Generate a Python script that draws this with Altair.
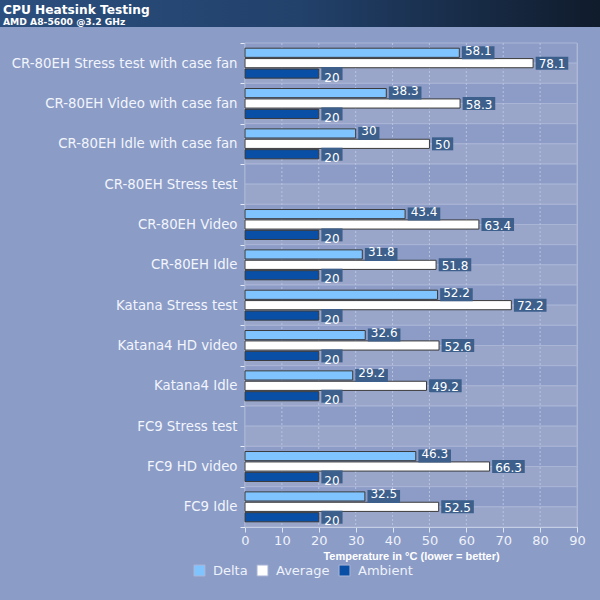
import altair as alt
import pandas as pd

categories = [
    "CR-80EH Stress test with case fan",
    "CR-80EH Video with case fan",
    "CR-80EH Idle with case fan",
    "CR-80EH Stress test",
    "CR-80EH Video",
    "CR-80EH Idle",
    "Katana Stress test",
    "Katana4 HD video",
    "Katana4 Idle",
    "FC9 Stress test",
    "FC9 HD video",
    "FC9 Idle",
]
delta = [58.1, 38.3, 30, None, 43.4, 31.8, 52.2, 32.6, 29.2, None, 46.3, 32.5]
average = [78.1, 58.3, 50, None, 63.4, 51.8, 72.2, 52.6, 49.2, None, 66.3, 52.5]
ambient = [20, 20, 20, None, 20, 20, 20, 20, 20, None, 20, 20]
series = ["Delta", "Average", "Ambient"]
series_colors = ["#80c4ff", "#ffffff", "#0a4fa6"]
x_ticks = list(range(0, 100, 10))
halves = ["top", "bottom"]
stripe_colors = ["#8c9cc6", "#99a6c9"]

W, H = 332, 484
PX_PER_UNIT = W / 90.0

rows = []
for i, c in enumerate(categories):
    for s, vals in zip(series, [delta, average, ambient]):
        v = vals[i]
        if v is None:
            continue
        lab = f"{v:g}"
        ndig = sum(ch.isdigit() for ch in lab)
        ndot = lab.count(".")
        wpx = ndig * 7.6 + ndot * 3.8 + 6
        rows.append({"cat": c, "series": s, "value": v, "lab": lab,
                     "lx1": v + 0.7, "lx2": v + 0.7 + wpx / PX_PER_UNIT})
df = pd.DataFrame(rows)

stripe_df = pd.DataFrame([{"cat": c, "half": h, "scol": col}
                          for c in categories for h, col in zip(halves, stripe_colors)])
grid_df = pd.DataFrame({"t": x_ticks[1:-1]})
header_df = pd.DataFrame({"k": [0]})

xscale = alt.Scale(domain=[0, 90], nice=False, zero=True)
yscale = alt.Scale(domain=categories, paddingInner=0, paddingOuter=0)
y_enc = alt.Y("cat:N", sort=categories, scale=yscale,
              axis=alt.Axis(title=None, tickBand="extent", labelFontSize=13.3,
                            labelColor="#f2f5fb", labelFont="DejaVu Sans",
                            domainColor="#e6ebf6", domainWidth=1.5,
                            tickColor="#e6ebf6", tickSize=5, labelPadding=3,
                            labelLimit=300, grid=False))
x_axis = alt.Axis(values=x_ticks, title="Temperature in °C (lower = better)",
                  titleFontSize=11, titleFontWeight="bold", titleColor="#ffffff",
                  titleFont="Liberation Sans", labelFont="DejaVu Sans",
                  labelFontSize=13, labelColor="#eef2fa", domainColor="#dde4f3",
                  tickColor="#dde4f3", tickSize=5, grid=False, labelFlush=False,
                  labelOverlap=False, titlePadding=3, labelPadding=2)
off_scale = alt.Scale(domain=series, paddingInner=0.12, paddingOuter=0.5)


def xq(field):
    return alt.X(field, type="quantitative", scale=xscale, axis=x_axis)


header = alt.Chart(header_df).mark_rect(
    fill=alt.Gradient(gradient="linear", x1=0, x2=1, y1=0, y2=0,
                      stops=[alt.GradientStop(color="#2b4f7e", offset=0),
                             alt.GradientStop(color="#22416b", offset=0.5),
                             alt.GradientStop(color="#101b2b", offset=1)])
).encode(x=alt.value(-245), x2=alt.value(W + 23), y=alt.value(-43), y2=alt.value(-16))

stripes = alt.Chart(stripe_df).mark_bar(stroke="#aab5d6", strokeWidth=1).encode(
    x=xq("x0"),
    x2="x1:Q",
    y=y_enc,
    yOffset=alt.YOffset("half:N", sort=halves,
                        scale=alt.Scale(domain=halves, paddingInner=0, paddingOuter=0)),
    color=alt.Color("scol:N", scale=None),
).transform_calculate(x0="0", x1="90")

grid = alt.Chart(grid_df).mark_rule(strokeDash=[2, 2], color="#b9c3df", strokeWidth=1).encode(
    x=xq("t")
)

bars = alt.Chart(df).mark_bar(stroke="#3a3a3a", strokeWidth=1).encode(
    x=xq("value"),
    y=y_enc,
    yOffset=alt.YOffset("series:N", sort=series, scale=off_scale),
    color=alt.Color("series:N", sort=series,
                    scale=alt.Scale(domain=series, range=series_colors),
                    legend=alt.Legend(title=None, orient="none", legendX=-52, legendY=521,
                                      direction="horizontal", symbolType="square",
                                      symbolSize=120, symbolStrokeColor="#333333",
                                      symbolStrokeWidth=1, labelColor="#eef2fa",
                                      labelFontSize=13, labelFont="DejaVu Sans",
                                      columnPadding=7, labelOffset=7)),
)

boxes = alt.Chart(df).mark_bar(color="#3d5f8c", size=13).encode(
    x=xq("lx1"),
    x2="lx2:Q",
    y=y_enc,
    yOffset=alt.YOffset("series:N", sort=series, scale=off_scale),
)

texts = alt.Chart(df).mark_text(align="left", baseline="middle", dx=3, dy=1, color="#ffffff",
                                fontSize=12, font="DejaVu Sans").encode(
    x=xq("lx1"),
    y=y_enc,
    yOffset=alt.YOffset("series:N", sort=series, scale=off_scale),
    text="lab:N",
)

chart = alt.layer(header, stripes, grid, bars, boxes, texts).resolve_scale(
    yOffset="independent"
).properties(
    width=W, height=H,
    autosize=alt.AutoSizeParams(type="none"),
    padding={"left": 245, "top": 43, "right": 23, "bottom": 73},
    background="#8b9cc7",
    title=alt.TitleParams("CPU Heatsink Testing", subtitle="AMD A8-5600 @3.2 GHz",
                          anchor="start", frame="group", dx=-242, dy=27, offset=0,
                          color="#ffffff", zindex=2,
                          fontSize=12.2, font="DejaVu Sans", fontWeight="bold",
                          subtitleColor="#ffffff", subtitleFontSize=9.2,
                          subtitleFont="DejaVu Sans", subtitleFontWeight="bold",
                          subtitlePadding=2),
).configure_view(stroke="#b0bbd8", strokeWidth=1)

chart.save("out.html", embed_options={"renderer": "svg", "actions": False})
